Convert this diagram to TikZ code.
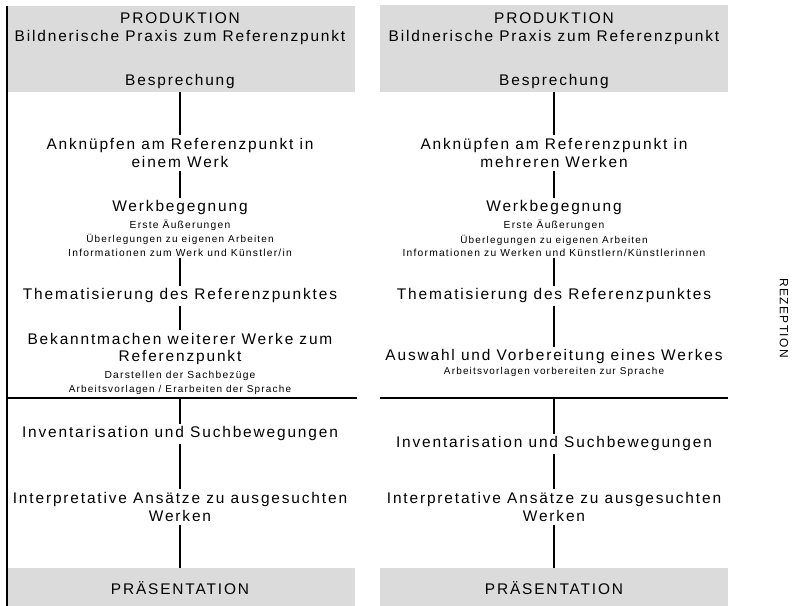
\documentclass[tikz,border=0pt]{standalone}
\usepackage{fontspec}
\setmainfont{Liberation Sans}[LetterSpace=12]
\usetikzlibrary{positioning}

\begin{document}
\begin{tikzpicture}[x=1bp, y=-1bp,
    band/.style={fill=black!14, inner sep=0pt, anchor=north west, minimum width=348bp},
    stage/.style={align=center, inner sep=3pt, font=\fontsize{15.5}{18}\selectfont},
    sub/.style={inner sep=1pt, font=\fontsize{10.3}{12}\selectfont},
    tiny/.style={inner sep=1pt, font=\fontsize{10}{11}\selectfont},
    link/.style={line width=1.4pt},
    rule/.style={line width=1.6pt}
]
\useasboundingbox (0,0) rectangle (792,606);

% --- left column
\node[band, minimum height=86bp] (prodL) at (7,6) {};
\node[stage] (titL) at (180,18) {PRODUKTION};
\node[stage] (praxL) at (180,38) {Bildnerische Praxis zum Referenzpunkt};
\node[stage] (bespL) at (180,82) {Besprechung};
\node[stage] (ankL) at (180,153) {Anknüpfen am Referenzpunkt in\\einem Werk};
\node[stage] (wbL) at (180,208) {Werkbegegnung};
\node[sub] (eaL) at (180,225) {Erste Äußerungen};
\node[tiny] (ueL) at (180,239) {Überlegungen zu eigenen Arbeiten};
\node[sub] (infL) at (180,253) {Informationen zum Werk und Künstler/in};
\node[stage] (thL) at (180,296) {Thematisierung des Referenzpunktes};
\node[stage] (bekL) at (180,349) {Bekanntmachen weiterer Werke zum\\Referenzpunkt};
\node[sub] (darL) at (180,376) {Darstellen der Sachbezüge};
\node[tiny] (arbL) at (180,390) {Arbeitsvorlagen / Erarbeiten der Sprache};
\node[stage] (invL) at (180,434) {Inventarisation und Suchbewegungen};
\node[stage] (intL) at (180,507) {Interpretative Ansätze zu ausgesuchten\\Werken};
\node[band, minimum height=38bp] (presL) at (7,568) {};
\node[stage] at (180,588) {PRÄSENTATION};
\coordinate (divL) at (180,398);

% --- right column
\node[band, minimum height=87bp] (prodR) at (380,5) {};
\node[stage] (titR) at (554,18) {PRODUKTION};
\node[stage] (praxR) at (554,38) {Bildnerische Praxis zum Referenzpunkt};
\node[stage] (bespR) at (554,82) {Besprechung};
\node[stage] (ankR) at (554,153) {Anknüpfen am Referenzpunkt in\\mehreren Werken};
\node[stage] (wbR) at (554,208) {Werkbegegnung};
\node[sub] (eaR) at (554,225) {Erste Äußerungen};
\node[tiny] (ueR) at (554,240) {Überlegungen zu eigenen Arbeiten};
\node[sub] (infR) at (554,253) {Informationen zu Werken und Künstlern/Künstlerinnen};
\node[stage] (thR) at (554,296) {Thematisierung des Referenzpunktes};
\node[stage] (ausR) at (554,357) {Auswahl und Vorbereitung eines Werkes};
\node[tiny] (arbR) at (554,372) {Arbeitsvorlagen vorbereiten zur Sprache};
\node[stage] (invR) at (554,444) {Inventarisation und Suchbewegungen};
\node[stage] (intR) at (554,507) {Interpretative Ansätze zu ausgesuchten\\Werken};
\node[band, minimum height=38bp] (presR) at (380,568) {};
\node[stage] at (554,588) {PRÄSENTATION};
\coordinate (divR) at (554,398);

\node[rotate=-90, font=\fontsize{12}{14}\selectfont] (rez) at (784,318) {REZEPTION};

% frame and dividers
\draw[rule] (prodL.north west) -- (presL.south west);
\draw[rule] (prodL.south west |- divL) -- (prodL.south east |- divL) -- ++(2,0);
\draw[rule] (prodR.south west |- divR) -- (prodR.south east |- divR);

% connectors
\draw[link] (prodL.south -| bespL) -- (ankL);
\draw[link] (ankL) -- (wbL);
\draw[link] (infL) -- (thL);
\draw[link] (thL) -- (bekL);
\draw[link] (divL) -- (invL);
\draw[link] (invL) -- (intL);
\draw[link] (intL) -- (presL.north -| intL);

\draw[link] (prodR.south -| bespR) -- (ankR);
\draw[link] (ankR) -- (wbR);
\draw[link] (infR) -- (thR);
\draw[link] (thR) -- (ausR);
\draw[link] (divR) -- (invR);
\draw[link] (invR) -- (intR);
\draw[link] (intR) -- (presR.north -| intR);
\end{tikzpicture}
\end{document}
